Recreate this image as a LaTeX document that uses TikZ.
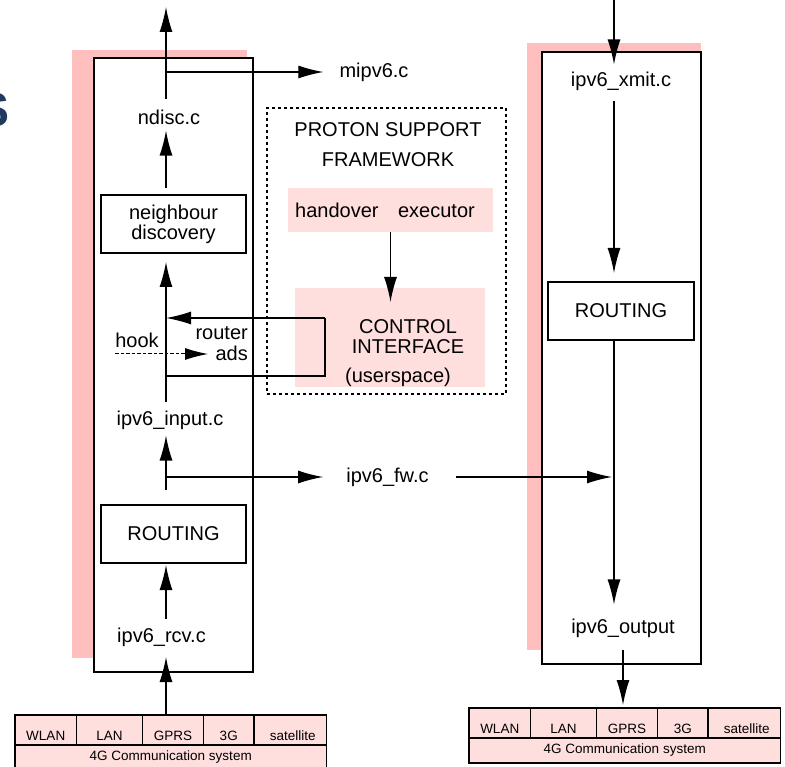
\documentclass[tikz,border=0pt]{standalone}
\usepackage{fontspec}
\setmainfont{Liberation Sans}
\usetikzlibrary{arrows.meta,calc}
\definecolor{shadowpink}{HTML}{FFBFBF}
\definecolor{softpink}{HTML}{FFDEDE}
\definecolor{titlenavy}{HTML}{1F3A60}

% one row of access networks above the "4G Communication system" bar
\newcommand\netstack[3]{%
  \begin{scope}[shift={(#2,#3)}]
    \node[cell, minimum width=61.5pt, anchor=north west] (#1-wlan) at (0,0) {WLAN};
    \node[cell, minimum width=66pt, anchor=north west] (#1-lan) at (#1-wlan.north east) {LAN};
    \node[cell, minimum width=61pt, anchor=north west] (#1-gprs) at (#1-lan.north east) {GPRS};
    \node[cell, minimum width=50.5pt, anchor=north west] (#1-3g) at (#1-gprs.north east) {3G};
    \node[cell, minimum width=72.5pt, anchor=north west] (#1-sat) at (#1-3g.north east) {\hspace*{5pt}satellite};
    \node[syscell, minimum width=311.5pt, anchor=north west] (#1-sys) at (#1-wlan.south west) {4G Communication system};
  \end{scope}}

\begin{document}
\begin{tikzpicture}[x=1pt,y=-1pt,
  lbl/.style={font=\fontsize{20}{20}\selectfont, inner sep=0pt, align=center},
  box/.style={draw, line width=1.3pt, fill=white, inner sep=0pt, outer sep=0pt,
              font=\fontsize{20}{20}\selectfont, align=center},
  cell/.style={draw, line width=1.1pt, fill=softpink, inner sep=0pt, outer sep=0pt,
               minimum height=30pt, font=\fontsize{13.5}{15}\selectfont,
               text height=20pt, text depth=0pt},
  syscell/.style={draw, line width=1.1pt, fill=softpink, inner sep=0pt, outer sep=0pt,
                  minimum height=25pt, font=\fontsize{13.5}{15}\selectfont},
  pinkpanel/.style={fill=softpink, inner sep=0pt, outer sep=0pt, anchor=north west},
  flow/.style={line width=1.3pt, -{Latex[length=25pt,width=13pt]}},
  wire/.style={line width=1.3pt},
]
\useasboundingbox (0,0) rectangle (785,767);
\clip (0,0) rectangle (785,767);

% fragment of a heading at the left edge
\node[anchor=base east, inner sep=0pt, text=titlenavy,
      font=\bfseries\fontsize{48}{50}\selectfont] (titlefrag) at (10,127) {S};

% receive side (left) and transmit side (right) columns with their shadows
\fill[shadowpink] (72,50) rectangle (247,658);
\node[box, minimum width=159pt, minimum height=614pt, anchor=north west] (leftcol) at (94,58) {};
\fill[shadowpink] (527,43) rectangle (701,650);
\node[box, minimum width=159pt, minimum height=612pt, anchor=north west] (rightcol) at (542,52) {};

% PROTON support framework
\node[draw, line width=2.9pt, dash pattern=on 3pt off 3pt, inner sep=0pt, outer sep=0pt,
      minimum width=239pt, minimum height=286pt, anchor=north west] (psf) at (267,108) {};
\node[pinkpanel, minimum width=205pt, minimum height=44pt] (hox) at (288,188) {};
\node[pinkpanel, minimum width=190pt, minimum height=99pt] (ctrl) at (295,288) {};
\node[lbl, font=\fontsize{20}{20}\selectfont] (psftitle) at (388,145) {PROTON SUPPORT\\[10pt]FRAMEWORK};
\node[lbl] (hotext) at (385,210) {handover\hspace{14pt} executor};
\node[lbl] (ctrltext) at (408,337) {CONTROL\\INTERFACE};
\node[lbl] (usertext) at (398,377) {(userspace)};
\draw[flow] (hox.south) -- ($(hox.south |- ctrl.north)+(0,14)$);

% network stacks
\netstack{lnet}{15}{715}
\netstack{rnet}{469}{708}

% left column
\coordinate (spine) at (166,0);
\coordinate (topout) at (166,7);
\node[lbl] (ndisc) at (169,117) {ndisc.c};
\node[box, minimum width=145pt, minimum height=58pt, anchor=north west] (nd) at (101,195) {neighbour\\discovery};
\node[lbl] (ipin) at (170,420) {ipv6\_input.c};
\node[box, minimum width=145pt, minimum height=58pt, anchor=north west] (lrout) at (101,505) {ROUTING};
\node[lbl] (rcv) at (161.5,637) {ipv6\_rcv.c};
\node[lbl] (mipv6) at (374,72) {mipv6.c};
\node[lbl] (fw) at (387.5,477) {ipv6\_fw.c};

\draw[flow, shorten <=10pt] (ndisc.north -| spine) -- (topout);
\coordinate (br1) at (166,72);
\draw[flow, shorten >=16pt] (br1) -- (mipv6.west);
\draw[flow, shorten <=7pt, shorten >=6pt] (nd.north -| spine) -- (ndisc.south -| spine);
\draw[flow, shorten <=8pt, shorten >=9pt] (ipin.north -| spine) -- (nd.south -| spine);
\draw[flow, shorten <=15pt, shorten >=6pt] (lrout.north -| spine) -- (ipin.south -| spine);
\coordinate (br2) at (166,477);
\draw[flow, shorten >=23pt] (br2) -- (fw.west);
\draw[flow, shorten <=8pt, shorten >=2pt] (rcv.north -| spine) -- (lrout.south -| spine);
\draw[flow] (lnet-gprs.north -| spine) -- ($(leftcol.south -| spine)+(0,-15)$);

% router advertisements loop and hook
\coordinate (loopTL) at (166,318);
\coordinate (loopTR) at (325,318);
\coordinate (loopBR) at (325,376);
\coordinate (loopBL) at (166,376);
\draw[wire] (loopBL) -- (loopBR) -- (loopTR);
\draw[flow] (loopTR) -- (loopTL);
\node[lbl] (hook) at (137,340) {hook};
\node[lbl, anchor=east, align=right, font=\fontsize{20}{21}\selectfont] (ads) at (248,344) {router\\ads};
\coordinate (hookin) at (115,354);
\coordinate (hookout) at (208,354);
\draw[line width=1pt, dash pattern=on 3.5pt off 2pt, -{Latex[length=23pt,width=12pt]}] (hookin) -- (hookout);

% right column
\coordinate (rin) at (614,0);
\node[lbl] (xmit) at (621,81) {ipv6\_xmit.c};
\node[box, minimum width=146pt, minimum height=58pt, anchor=north west] (rrout) at (548,282) {ROUTING};
\node[lbl] (out) at (623,628) {ipv6\_output};
\draw[flow, shorten >=7pt] (rin) -- (xmit.north -| rin);
\draw[flow, shorten <=10pt, shorten >=9pt] (xmit.south -| rin) -- (rrout.north -| rin);
\draw[flow, shorten >=14pt] (rrout.south -| rin) -- (out.north -| rin);
\draw[flow, shorten <=27pt, shorten >=2pt] (fw.east) -- (fw.east -| rin);
\draw[flow, shorten <=12pt, shorten >=3pt] (out.south) -- (rnet-gprs.north -| out.south);
\end{tikzpicture}
\end{document}
